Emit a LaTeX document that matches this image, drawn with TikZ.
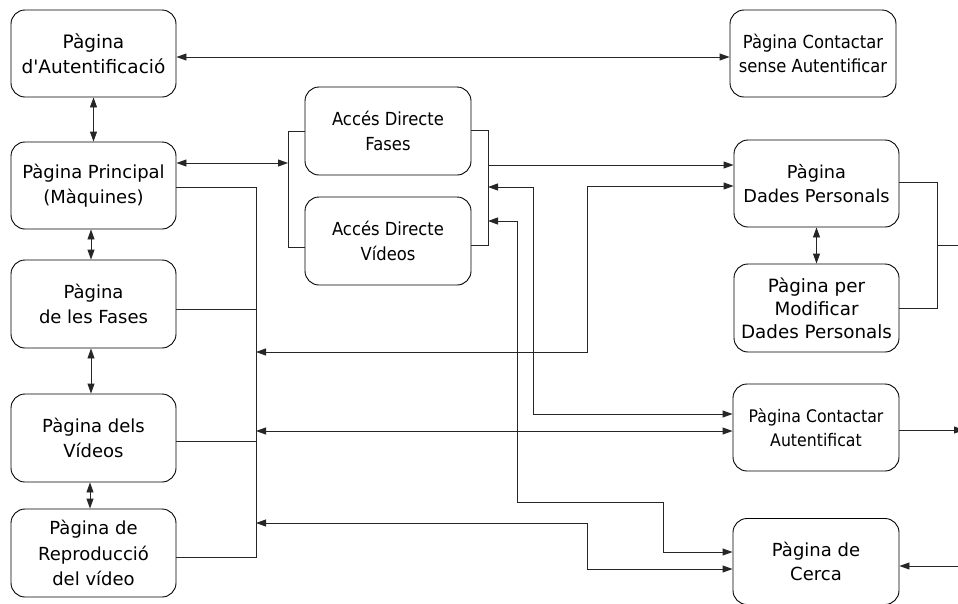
\documentclass[tikz,border=0pt]{standalone}
\usepackage{fontspec}
\setmainfont{DejaVu Sans}[Ligatures=TeXOff]
\newfontfamily\narrowfont{DejaVu Sans}[Ligatures=TeXOff, FakeStretch=0.91]
\usetikzlibrary{arrows.meta}
\tikzset{
  page/.style={draw=black, line width=0.9pt, rounded corners=14pt,
    minimum width=166pt, minimum height=87pt, inner sep=0pt, align=center,
    font=\fontsize{18}{24.5}\selectfont},
  narrow/.style={font=\narrowfont\fontsize{18}{24.5}\selectfont},
  conn/.style={draw=black!85, line width=0.9pt},
  tip/.tip={Triangle[length=10pt,width=7pt]},
  both/.style={conn, tip-tip},
  onto/.style={conn, -tip},
}
\begin{document}
\begin{tikzpicture}[x=1pt,y=-1pt]
\useasboundingbox (0,0) rectangle (958,603);

% pages
\node[page, minimum width=165pt, font=\fontsize{18.5}{24.5}\selectfont] (auth) at (93.5,53.5) {Pàgina\\d'Autentificació};
\node[page, narrow] (cont0) at (813,53.5) {Pàgina Contactar\\sense Autentificar};
\node[page, minimum width=165pt] (princ) at (93.5,185.5) {Pàgina Principal\\(Màquines)};
\node[page, minimum width=165pt, minimum height=88pt] (fases) at (93.5,304) {Pàgina\\de les Fases};
\node[page, minimum width=165pt, minimum height=88pt] (videos) at (93.5,438) {Pàgina dels\\Vídeos};
\node[page, minimum width=165pt, minimum height=88pt, font=\fontsize{18}{25.5}\selectfont] (repro) at (93.5,553) {Pàgina de\\Reproducció\\del vídeo};
\node[page, narrow, minimum height=88pt] (adf) at (388,131) {Accés Directe\\Fases};
\node[page, narrow, minimum height=88pt] (adv) at (388,241) {Accés Directe\\Vídeos};
\node[page, minimum width=165pt, font=\fontsize{17.75}{24}\selectfont] (dades) at (816.5,183.5) {Pàgina\\Dades Personals};
\node[page, minimum width=165pt, minimum height=88pt, font=\fontsize{18.3}{23}\selectfont] (modif) at (816.5,308) {Pàgina per\\Modificar\\Dades Personals};
\node[page, font=\narrowfont\fontsize{17.3}{24}\selectfont] (contA) at (816,427.5) {Pàgina Contactar\\Autentificat};
\node[page, minimum height=86pt] (cerca) at (816,561.5) {Pàgina de\\Cerca};

% vertical links between neighbouring pages
\draw[both] (auth.east |- 0,57) -- (cont0.west |- 0,57);
\draw[both] (auth.south) -- (princ.north);
\draw[both] (princ.south -| 91,0) -- (fases.north -| 91,0);
\draw[both] (fases.south -| 91,0) -- (videos.north -| 91,0);
\draw[both] (videos.south -| 90,0) -- (repro.north -| 90,0);
\draw[both] (dades.south) -- (modif.north);

% bracket round the two shortcut pages
\draw[conn] (adf.west |- 0,131) -- (288,131) -- (288,247) -- (adv.west |- 0,247);
\draw[conn] (adf.east |- 0,130) -- (488,130) -- (488,245) -- (adv.east |- 0,245);
\draw[both] (princ.east |- 0,163) -- (288,163);
\draw[onto] (488,165) -- (dades.west |- 0,165);

% bus gathering the navigation pages
\draw[conn] (princ.east |- 0,187) -- (256,187) -- (256,557) -- (repro.east |- 0,557);
\draw[conn] (fases.east |- 0,309) -- (256,309);
\draw[conn] (videos.east |- 0,441) -- (256,441);

% links from the bus and the bracket to the right-hand pages
\draw[both] (256,352) -- (587,352) -- (587,186) -- (dades.west |- 0,186);
\draw[both] (488,187) -- (533,187) -- (533,414) -- (contA.west |- 0,414);
\draw[both] (256,431) -- (contA.west |- 0,431);
\draw[both] (488,221) -- (517,221) -- (517,502) -- (663,502) -- (663,552) -- (cerca.west |- 0,552);
\draw[both] (256,523) -- (587,523) -- (587,569) -- (cerca.west |- 0,569);

% right-hand side
\draw[conn] (dades.east |- 0,182) -- (937,182) -- (937,308) -- (modif.east |- 0,308);
\draw[conn] (937,245) -- (958,245);
\draw[onto] (contA.east |- 0,430) -- (964,430);
\draw[onto] (958,566) -- (cerca.east |- 0,566);
\end{tikzpicture}
\end{document}
